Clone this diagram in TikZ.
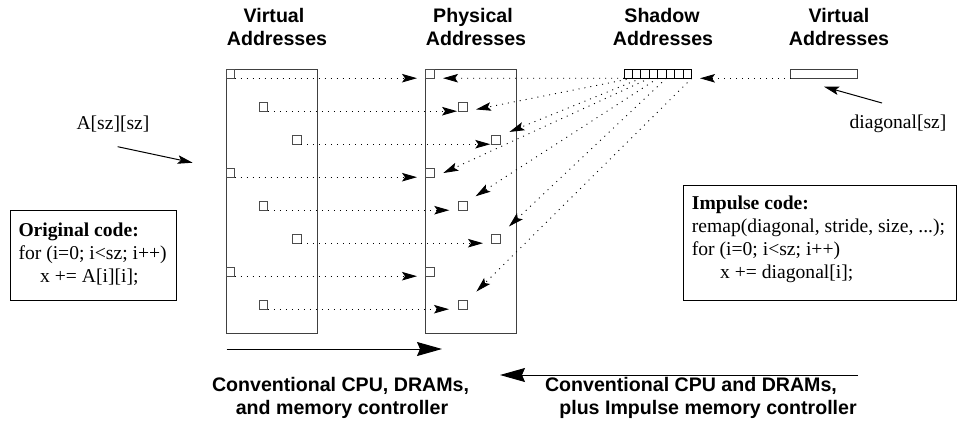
\documentclass[tikz,border=0pt]{standalone}
\usepackage{fontspec}
\setmainfont{Liberation Serif}
\setsansfont{Liberation Sans}
\usetikzlibrary{arrows.meta}
\begin{document}
\begin{tikzpicture}[x=1pt,y=-1pt,
  box/.style={draw=black!75,line width=1pt},
  sq/.style={draw=black!70,line width=1pt,minimum size=8.5pt,inner sep=0pt,outer sep=0pt},
  cell/.style={draw=black,line width=0.9pt,minimum width=8.46pt,minimum height=9.3pt,inner sep=0pt,outer sep=0pt},
  dotarrow/.style={line width=0.9pt,dash pattern=on 1pt off 5pt,-{Stealth[length=15pt,width=8.5pt,inset=3pt]}},
  solidarrow/.style={line width=1pt,-{Stealth[length=15pt,width=8.5pt,inset=3pt]}},
  bigarrow/.style={line width=1pt,-{Stealth[length=25pt,width=14pt,inset=3pt]}},
  codetxt/.style={font=\fontsize{19.6}{23}\selectfont,inner sep=0pt,anchor=base west},
  lbltxt/.style={font=\fontsize{19.6}{23}\selectfont,inner sep=0pt,anchor=base},
  ttl/.style={font=\fontsize{19.6}{23}\selectfont\sffamily\bfseries,inner sep=0pt,anchor=base}
]
\useasboundingbox (0,0) rectangle (957,439);

% titles
\node[ttl] (t1a) at (274,22) {Virtual};
\node[ttl] (t1b) at (277,45) {Addresses};
\node[ttl] (t2a) at (473,22) {Physical};
\node[ttl] (t2b) at (476,45) {Addresses};
\node[ttl] (t3a) at (662,22) {Shadow};
\node[ttl] (t3b) at (663,45) {Addresses};
\node[ttl] (t4a) at (839,22) {Virtual};
\node[ttl] (t4b) at (839,45) {Addresses};

% memory boxes
\node[box,minimum width=91.7pt,minimum height=263.6pt,inner sep=0pt,outer sep=0pt] (vbox) at (271.85,201.5) {};
\node[box,minimum width=91pt,minimum height=263.6pt,inner sep=0pt,outer sep=0pt] (pbox) at (471.2,201.5) {};

% virtual squares
\node[sq] (v1) at (230.25,73.95) {};
\node[sq] (v2) at (263.55,106.95) {};
\node[sq] (v3) at (296.95,139.95) {};
\node[sq] (v4) at (230.25,172.95) {};
\node[sq] (v5) at (263.55,205.95) {};
\node[sq] (v6) at (296.95,238.95) {};
\node[sq] (v7) at (230.25,271.95) {};
\node[sq] (v8) at (263.55,304.95) {};
% physical squares
\node[sq] (p1) at (429.95,73.95) {};
\node[sq] (p2) at (462.95,106.95) {};
\node[sq] (p3) at (495.95,139.95) {};
\node[sq] (p4) at (429.95,172.95) {};
\node[sq] (p5) at (462.95,205.95) {};
\node[sq] (p6) at (495.95,238.95) {};
\node[sq] (p7) at (429.95,271.95) {};
\node[sq] (p8) at (462.95,304.95) {};

% virtual -> physical
\draw[dotarrow,shorten >=8.7pt] (v1.south east) -- (p1.south west);
\draw[dotarrow,shorten >=1.6pt] (v2.south east) -- (p2.south west);
\draw[dotarrow,shorten >=1.4pt] (v3.south east) -- (p3.south west);
\draw[dotarrow,shorten >=8.7pt] (v4.south east) -- (p4.south west);
\draw[dotarrow,shorten >=9.4pt] (v5.south east) -- (p5.south west);
\draw[dotarrow,shorten >=8.7pt] (v6.south east) -- (p6.south west);
\draw[dotarrow,shorten >=8.7pt] (v7.south east) -- (p7.south west);
\draw[dotarrow,shorten >=9.7pt] (v8.south east) -- (p8.south west);

% shadow cells
\foreach \i in {1,...,8}{
  \node[cell] (s\i) at ({624+8.46*(\i-0.5)},73.65) {};
}

% shadow -> physical
\draw[dotarrow,shorten >=8.8pt] (s1.south west) -- (p1.south east);
\draw[dotarrow,shorten >=9pt] (s2.south west) -- (p2.south east);
\draw[dotarrow,shorten >=10pt] (s3.south west) -- (p3.north east);
\draw[dotarrow,shorten >=10pt] (s4.south west) -- (p4.south east);
\draw[dotarrow,shorten >=10pt] (s5.south west) -- (p5.north east);
\draw[dotarrow,shorten >=12pt] (s6.south west) -- (p6.north east);
\draw[dotarrow,shorten >=13pt] (s8.south east) -- (p8.north east);

% diagonal strip
\node[draw=black!75,line width=1pt,minimum width=66.6pt,minimum height=9.3pt,inner sep=0pt,outer sep=0pt] (vd) at (824,73.65) {};
\draw[dotarrow,shorten >=8.3pt] (vd.south west) -- (s8.south east);

% labels and pointers
\node[lbltxt] (dlbl) at (898,128) {diagonal[sz]};
\coordinate (dtail) at (882,103);
\coordinate (dtip) at (824,86.7);
\draw[solidarrow] (dtail) -- (dtip);

\node[lbltxt] (albl) at (113,129.3) {A[sz][sz]};
\coordinate (atail) at (117.7,146.7);
\coordinate (atip) at (192.7,162.7);
\draw[solidarrow] (atail) -- (atip);

% original code
\draw[line width=1pt] (10,210) rectangle (176.7,300.7);
\node[codetxt] (oc1) at (18.3,236.5) {\bfseries Original code:};
\node[codetxt] (oc2) at (18.3,259.5) {for (i=0; i<sz; i++)};
\node[codetxt] (oc3) at (40,282.5) {x += A[i][i];};

% impulse code
\draw[line width=1pt] (683.3,185) rectangle (956.5,300);
\node[codetxt] (ic1) at (691.7,209) {\bfseries Impulse code:};
\node[codetxt] (ic2) at (691.7,232) {remap(diagonal, stride, size, ...);};
\node[codetxt] (ic3) at (691.7,255) {for (i=0; i<sz; i++)};
\node[codetxt] (ic4) at (720,278) {x += diagonal[i];};

% bottom arrows
\coordinate (b1s) at (226.6,349);
\coordinate (b1e) at (442,349);
\draw[bigarrow] (b1s) -- (b1e);
\coordinate (b2s) at (858,375);
\coordinate (b2e) at (500,375);
\draw[bigarrow] (b2s) -- (b2e);

\node[ttl] (bl1) at (340.5,391) {Conventional CPU, DRAMs,};
\node[ttl] (bl2) at (342,414) {and memory controller};
\node[ttl] (br1) at (691,391) {Conventional CPU and DRAMs,};
\node[ttl] (br2) at (708,414) {plus Impulse memory controller};
\end{tikzpicture}
\end{document}
